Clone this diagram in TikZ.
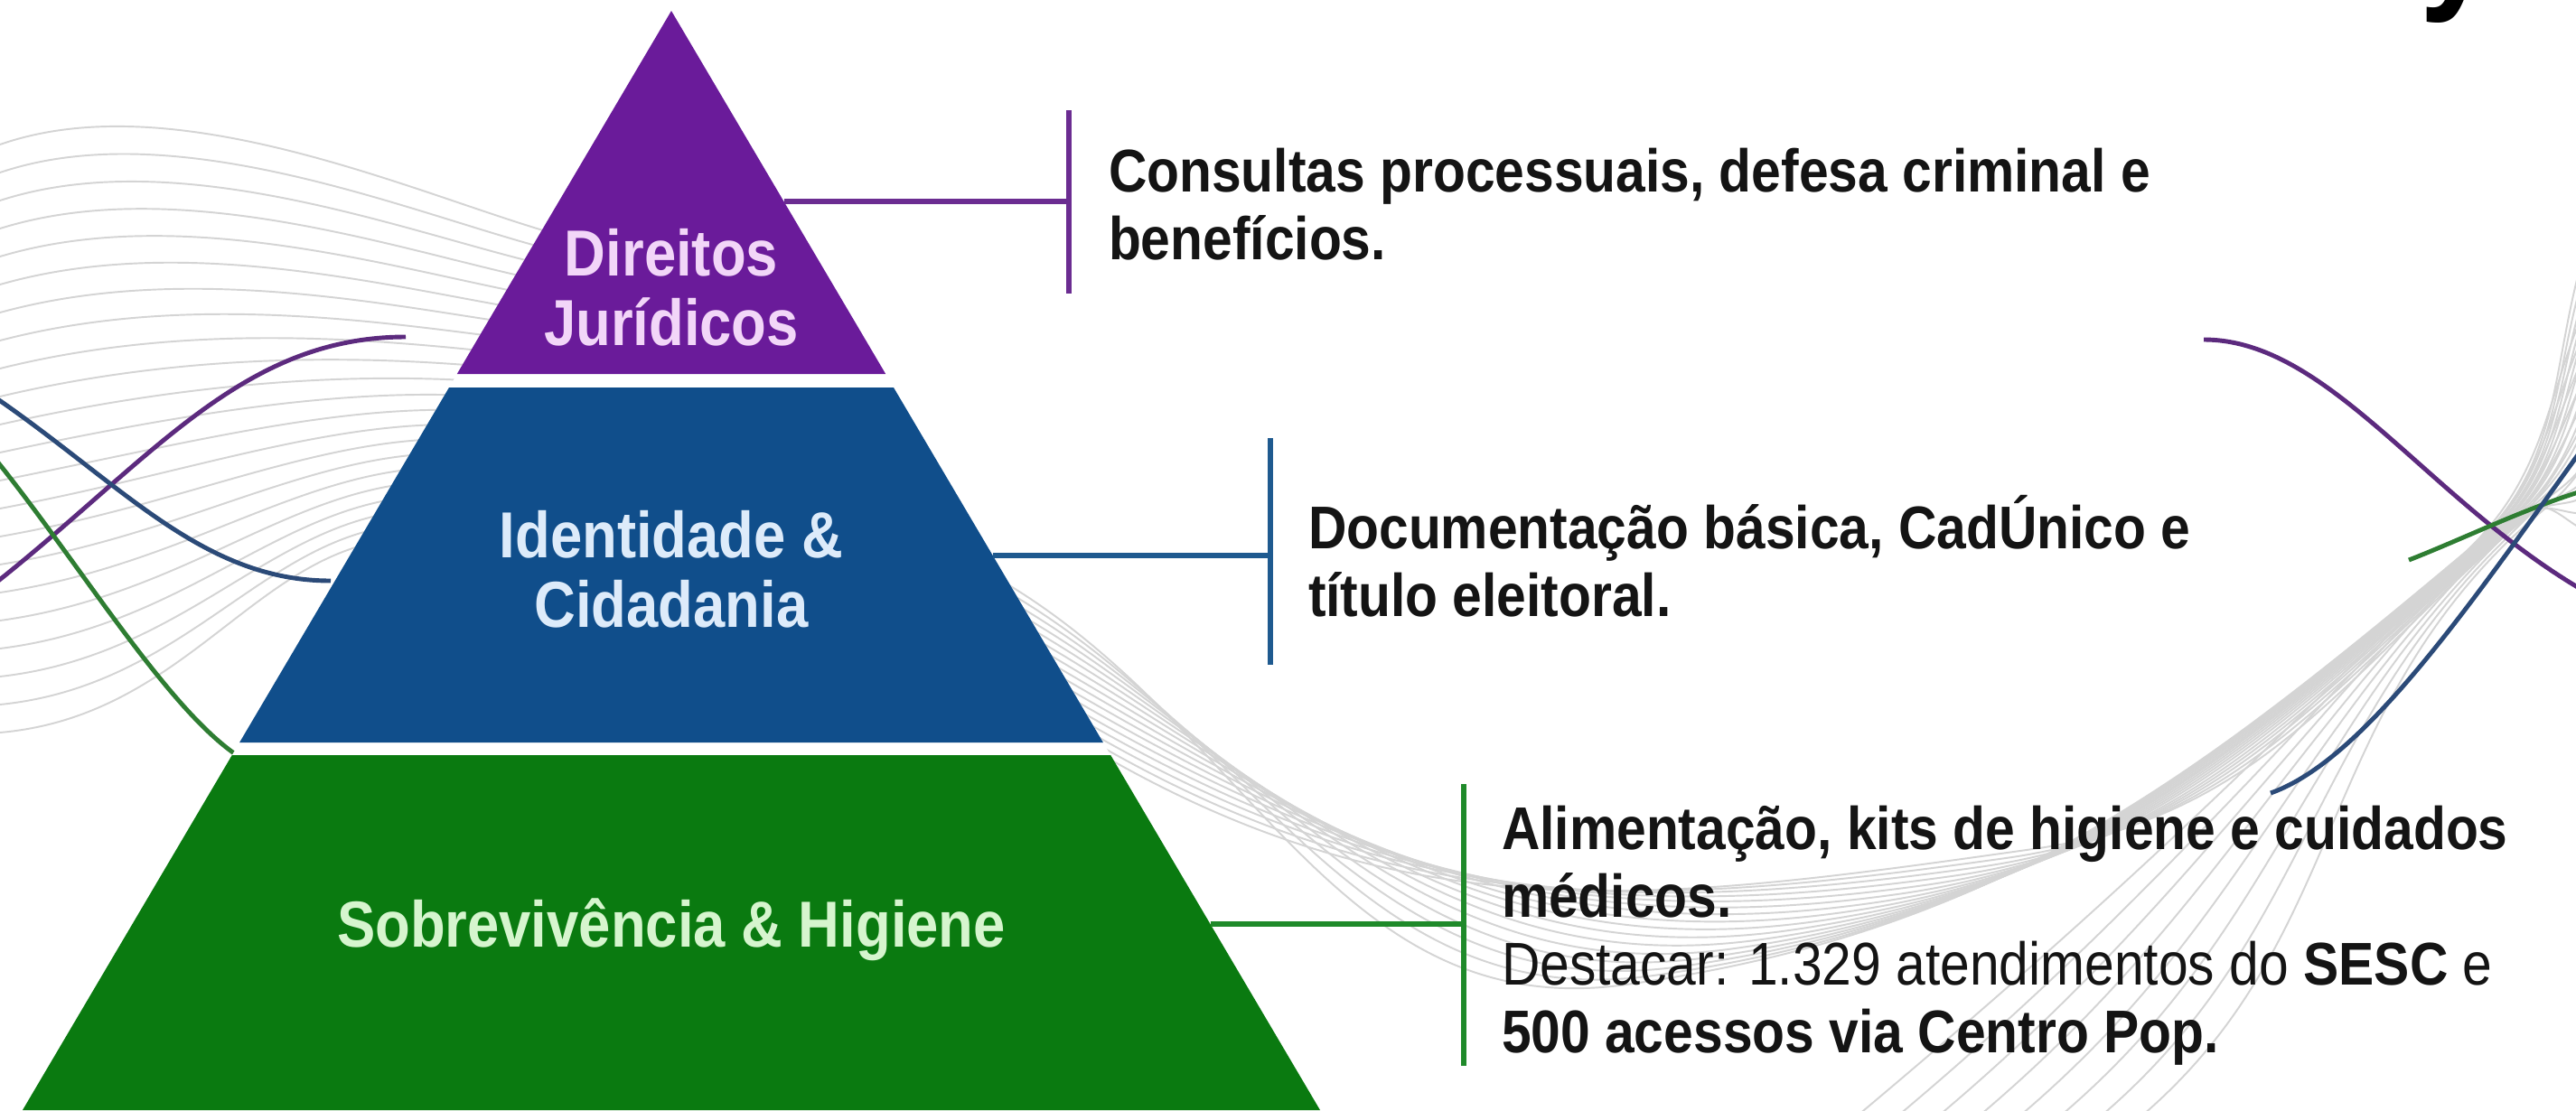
\documentclass[tikz,border=0pt]{standalone}
\usepackage{fontspec}
\setmainfont[FakeStretch=0.88]{Liberation Sans}
\usetikzlibrary{positioning}

\definecolor{jurpurple}{HTML}{6A1B9A}
\definecolor{idblue}{HTML}{104E8B}
\definecolor{survgreen}{HTML}{0A7A10}
\definecolor{jurtext}{HTML}{F2D6F8}
\definecolor{idtext}{HTML}{DDEBFA}
\definecolor{survtext}{HTML}{D6F5CE}
\definecolor{jurline}{HTML}{6B2C91}
\definecolor{idline}{HTML}{1F5A8F}
\definecolor{survline}{HTML}{1F8A2A}
\definecolor{wavepurple}{HTML}{5C2A7E}
\definecolor{waveblue}{HTML}{2B4A78}
\definecolor{wavegreen}{HTML}{2E7D32}
\definecolor{ink}{HTML}{141414}

\begin{document}
\begin{tikzpicture}[every node/.style = { inner sep = 0pt, outer sep = 0pt },
    level/.style = { font = \fontsize{20.5}{21.8}\selectfont\bfseries, align = center, anchor = base },
    info/.style = { font = \fontsize{19}{21.3}\selectfont, align = left, text = ink },
    conn/.style = { line width = 1.7pt },
    wave/.style = { line width = 1.4pt },
    fan/.style = { draw = black!17, line width = .55pt }]
    \useasboundingbox (0,0) rectangle (28.51,-12.29);
    \fill[white] (0,0) rectangle (28.51,-12.29);

    % grey fans behind everything
    \foreach \i in {0,...,21} {
      \pgfmathsetmacro\ys{1.6 + 0.31*\i}
      \pgfmathsetmacro\ye{2.62 + 0.16*\i}
      \pgfmathsetmacro\xe{7.43 - 0.59*(\ye - 0.12) + 0.3}
      \draw[fan] (0,-\ys) .. controls (2,-\ys + 0.7 - 0.025*\i) and (\xe - 1.5,-\ye + 0.4 - 0.03*\i) .. (\xe,-\ye);
    }
    \foreach \i in {0,...,15} {
      \pgfmathsetmacro\ys{6.4 + 0.13*\i}
      \pgfmathsetmacro\xs{7.43 + 0.59*(\ys - 0.12) - 0.1}
      \pgfmathsetmacro\xm{18 + 0.3*\i}
      \pgfmathsetmacro\ym{10.9 - 0.1*\i}
      \pgfmathsetmacro\xc{27.3 + 0.05*\i}
      \pgfmathsetmacro\yc{6.1 - 0.03*\i}
      \pgfmathsetmacro\yt{2.5 + 0.22*\i}
      \draw[fan] (\xs,-\ys) to[out=-30, in=188] (\xm,-\ym) to[out=8, in=220] (\xc,-\yc) to[out=40, in=250] (28.7,-\yt);
    }
    \foreach \i in {0,...,7} {
      \pgfmathsetmacro\xb{20.5 + 0.45*\i}
      \pgfmathsetmacro\xc{27.35 + 0.05*\i}
      \draw[fan] (\xb,-12.4) to[out=40, in=225] (\xc,-6.05) to[out=45, in=245] (28.7,-3.2 - 0.25*\i);
    }

    % coloured waves
    \draw[wave, wavepurple] (-0.3,-6.65) .. controls (1.6,-5.2) and (2.6,-3.73) .. (4.49,-3.73);
    \draw[wave, waveblue] (-0.2,-4.3) .. controls (1.3,-5.3) and (2.2,-6.43) .. (3.66,-6.43);
    \draw[wave, wavegreen] (-0.2,-4.9) .. controls (0.8,-6.1) and (1.8,-7.8) .. (2.62,-8.36);
    \draw[wave, wavepurple] (24.39,-3.76) .. controls (25.8,-3.76) and (26.9,-5.6) .. (28.7,-6.6);
    \draw[wave, wavegreen] (26.66,-6.2) .. controls (27.3,-5.95) and (28,-5.6) .. (28.7,-5.4);
    \draw[wave, waveblue] (25.13,-8.78) .. controls (26.2,-8.4) and (27.4,-6.6) .. (28.7,-4.8);

    % pyramid
    \fill[white] (7.43,-0.12) -- (14.61,-12.29) -- (0.25,-12.29) -- cycle;
    \fill[jurpurple] (7.43,-0.12) -- (9.802,-4.14) -- (5.058,-4.14) -- cycle;
    \fill[idblue] (4.97,-4.29) -- (9.89,-4.29) -- (12.209,-8.22) -- (2.651,-8.22) -- cycle;
    \fill[survgreen] (2.568,-8.36) -- (12.292,-8.36) -- (14.61,-12.29) -- (0.25,-12.29) -- cycle;

    \node[level, text = jurtext] (direitos) at (7.43,-3.82) {Direitos\\Jurídicos};
    \node[level, text = idtext] (identidade) at (7.43,-6.94) {Identidade \&\\Cidadania};
    \node[level, text = survtext] (sobrevivencia) at (7.43,-10.48) {Sobrevivência \& Higiene};

    % connectors
    \coordinate (jur edge) at (8.675,-2.23);
    \coordinate (jur joint) at (11.83,-2.23);
    \coordinate (jur top) at (11.83,-1.22);
    \coordinate (jur bottom) at (11.83,-3.25);
    \coordinate (id edge) at (10.988,-6.15);
    \coordinate (id joint) at (14.06,-6.15);
    \coordinate (id top) at (14.06,-4.85);
    \coordinate (id bottom) at (14.06,-7.36);
    \coordinate (surv edge) at (13.395,-10.23);
    \coordinate (surv joint) at (16.2,-10.23);
    \coordinate (surv top) at (16.2,-8.68);
    \coordinate (surv bottom) at (16.2,-11.8);

    \draw[conn, jurline] (jur edge) -- (jur joint);
    \draw[conn, jurline] (jur top) -- (jur bottom);
    \draw[conn, idline] (id edge) -- (id joint);
    \draw[conn, idline] (id top) -- (id bottom);
    \draw[conn, survline] (surv edge) -- (surv joint);
    \draw[conn, survline] (surv top) -- (surv bottom);

    \node[info, right = 0.44 of jur joint, anchor = base west, yshift = -6.4mm] (jur info) {\bfseries Consultas processuais, defesa criminal e\\\bfseries benefícios.};
    \node[info, right = 0.42 of id joint, anchor = base west, yshift = -6.7mm] (id info) {\bfseries Documentação básica, CadÚnico e\\\bfseries título eleitoral.};
    \node[info, right = 0.42 of surv joint, anchor = base west, yshift = -14.2mm] (surv info) {\textbf{Alimentação, kits de higiene e cuidados}\\\textbf{médicos.}\\Destacar: 1.329 atendimentos do \textbf{SESC} e\\\textbf{500 acessos via Centro Pop.}};

    % tail of the cut-off title
    \node[font = \fontsize{48}{48}\selectfont\bfseries, anchor = base] (title tail) at (27.2,0.1) {y};
  \end{tikzpicture}
\end{document}
